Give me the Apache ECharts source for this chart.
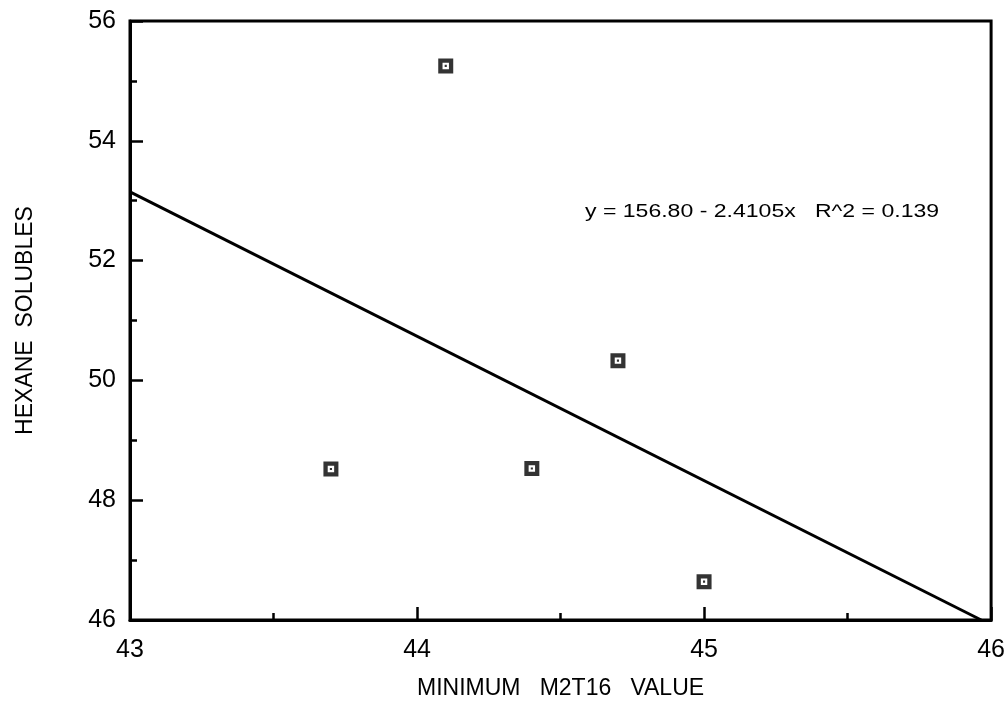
<!DOCTYPE html>
<html>
<head>
<meta charset="utf-8">
<title>Hexane Solubles vs Minimum M2T16 Value</title>
<script src="https://cdn.jsdelivr.net/npm/echarts@6/dist/echarts.min.js"></script>
<style>
  html, body { margin: 0; padding: 0; background: #fff; }
  #chart { width: 1008px; height: 705px; }
</style>
</head>
<body>
<div id="chart"></div>
<script>
// Observations: minimum M2T16 value (x) and hexane solubles (y)
const m2t16Values = [44.1, 43.7, 44.4, 44.7, 45.0];
const hexaneSolubles = [55.25, 48.52, 48.53, 50.33, 46.64];

// Axis ranges and tick steps
const xTicks = [43, 44, 45, 46];
const yTicks = [46, 48, 50, 52, 54, 56];

// Least-squares fit reported on the chart
const fitIntercept = 156.80;
const fitSlope = -2.4105;
const fitR2 = 0.139;

const xMin = xTicks[0], xMax = xTicks[xTicks.length - 1];
const yMin = yTicks[0], yMax = yTicks[yTicks.length - 1];
const xStep = xTicks[1] - xTicks[0];
const yStep = yTicks[1] - yTicks[0];

const points = m2t16Values.map((x, i) => [x, hexaneSolubles[i]]);

// Fit line runs from the left edge until it meets the bottom of the plot
const fitY = x => fitIntercept + fitSlope * x;
const xAtBottom = Math.min(xMax, (yMin - fitIntercept) / fitSlope);
const fitLine = [[xMin, fitY(xMin)], [xAtBottom, fitY(xAtBottom)]];

const fitText = 'y = ' + fitIntercept.toFixed(2) + ' - ' + Math.abs(fitSlope).toFixed(4) +
  'x   R^2 = ' + fitR2.toFixed(3);

// Square with a hollow centre and a small dot inside
const boxDot = 'path://M0,0 L14,0 L14,14 L0,14 Z M4,4 L4,10 L10,10 L10,4 Z M6,6 L8,6 L8,8 L6,8 Z';

const FONT = 'Liberation Sans, Arial, Helvetica, sans-serif';
const INK = '#000';

const chart = echarts.init(document.getElementById('chart'), null, { renderer: 'canvas' });

chart.setOption({
  backgroundColor: '#fff',
  animation: false,
  grid: {
    left: 130, right: 16, top: 21, bottom: 85,
    show: true, borderColor: INK, borderWidth: 3, backgroundColor: 'transparent'
  },
  xAxis: {
    type: 'value',
    min: xMin, max: xMax, interval: xStep,
    name: 'MINIMUM   M2T16   VALUE',
    nameLocation: 'middle',
    nameGap: 57,
    nameTextStyle: { fontFamily: FONT, fontSize: 23, color: INK },
    axisLine: { show: true, onZero: false, lineStyle: { color: INK, width: 3 } },
    axisTick: { show: true, inside: true, length: 13, lineStyle: { color: INK, width: 2.5 } },
    minorTick: { show: true, splitNumber: 2, length: 7, lineStyle: { color: INK, width: 2.5 } },
    splitLine: { show: false },
    minorSplitLine: { show: false },
    axisLabel: { fontFamily: FONT, fontSize: 25, color: INK, margin: 18 }
  },
  yAxis: {
    type: 'value',
    min: yMin, max: yMax, interval: yStep,
    name: 'HEXANE  SOLUBLES',
    nameLocation: 'middle',
    nameRotate: 90,
    nameGap: 93,
    nameTextStyle: { fontFamily: FONT, fontSize: 23, color: INK },
    axisLine: { show: true, onZero: false, lineStyle: { color: INK, width: 3 } },
    axisTick: { show: true, inside: true, length: 13, lineStyle: { color: INK, width: 2.5 } },
    minorTick: { show: true, splitNumber: 2, length: 7, lineStyle: { color: INK, width: 2.5 } },
    splitLine: { show: false },
    minorSplitLine: { show: false },
    axisLabel: { fontFamily: FONT, fontSize: 25, color: INK, margin: 14 }
  },
  series: [
    {
      name: 'Fit',
      type: 'line',
      data: fitLine,
      showSymbol: false,
      silent: true,
      lineStyle: { color: INK, width: 3 },
      z: 2
    },
    {
      name: 'Hexane solubles',
      type: 'scatter',
      data: points,
      symbol: boxDot,
      symbolSize: 15,
      itemStyle: { color: INK },
      z: 3
    }
  ],
  graphic: [
    {
      type: 'text',
      x: 585,
      y: 212,
      scaleX: 1.28,
      style: {
        text: fitText,
        font: '18px ' + FONT,
        fill: INK,
        verticalAlign: 'middle',
        align: 'left'
      }
    }
  ]
});
</script>
</body>
</html>
